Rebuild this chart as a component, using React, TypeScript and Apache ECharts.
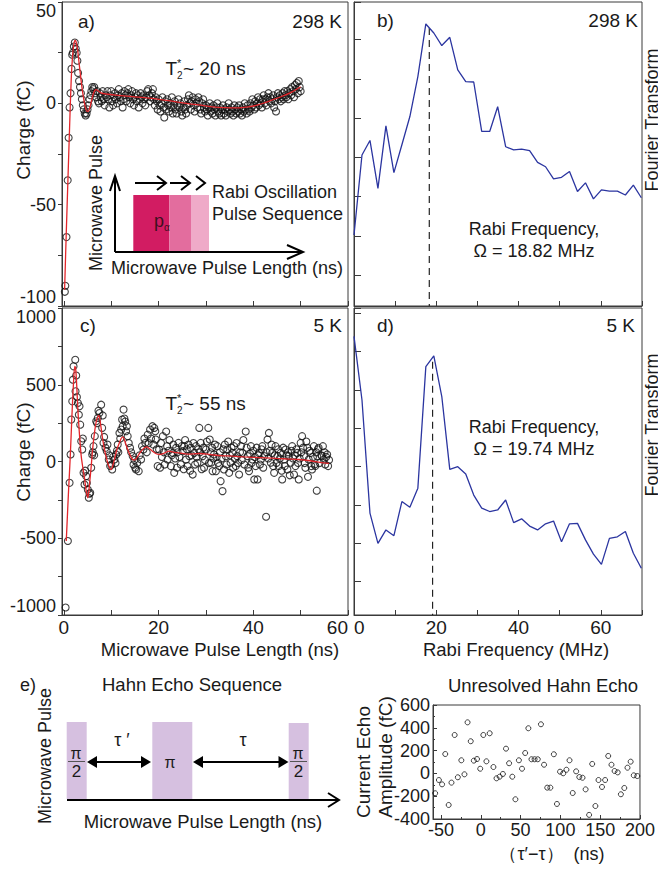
import React, { useEffect, useRef } from "react";
import * as echarts from "echarts";

const FONT = '"Liberation Sans", Arial, Helvetica, sans-serif';
const FRAME = "#3a3a3a";
const INK = "#1a1a1a";

// ---------- Panel a: Rabi oscillation, 298 K (ns, fC) ----------
const pulseA: number[][] = [
  [0.2,-93],[0.3,-90],[0.55,-66],[0.8,-38],[1.0,-17],[1.2,-2],[1.4,5],[1.6,17],[1.75,24],[1.9,25],[2.1,28],[2.3,30],[2.5,27],[2.7,25],[2.85,21],[3.0,15],[3.2,11],[3.4,8],[3.6,5],[3.8,2],[4.0,-1],[4.2,-3],[4.4,-5],[4.6,-6],[4.8,-5],[5.0,-3],[5.2,-1],[5.4,2],[5.6,4],[5.8,6],[6.0,8],[6.2,7],[6.4,8],[6.6,5],[6.8,3],[7.0,6],[7.2,1],[7.4,0],[7.6,5],[7.8,3],[8.0,1],[8.2,6],[8.4,2],[8.6,-1],[8.8,4],[9.0,3],[9.2,6],[9.4,2],[9.6,-2],[9.8,4],
  [10.0,6],[10.2,1],[10.4,-1],[10.6,3],[10.8,5],[11.0,2],[11.2,0],[11.4,4],[11.6,7],[11.8,3],[12.0,1],[12.2,5],[12.4,-2],[12.6,2],[12.8,6],[13.0,4],[13.2,1],[13.4,5],[13.6,7],[13.8,3],[14.0,0],[14.2,4],[14.4,6],[14.6,2],[14.8,-1],[15.0,3],[15.2,5],[15.4,1],[15.6,4],[15.8,-2],[16.0,2],[16.2,5],[16.4,3],[16.6,0],[16.8,4],[17.0,2],[17.2,-1],[17.4,3],[17.6,6],[17.8,7],[18.0,4],[18.2,1],[18.4,3],[18.6,5],[18.8,7],[19.0,2],[19.2,-1],[19.4,3],[19.6,1],[19.8,-3],
  [20.0,2],[20.2,-1],[20.4,-4],[20.6,0],[20.8,3],[21.0,-2],[21.2,-7],[21.4,1],[21.6,-3],[21.8,2],[22.0,-1],[22.2,-4],[22.4,0],[22.6,-2],[22.8,3],[23.0,-5],[23.2,-1],[23.4,1],[23.6,-3],[23.8,-5],[24.0,-1],[24.2,2],[24.4,-2],[24.6,0],[24.8,-4],[25.0,-6],[25.2,-2],[25.4,1],[25.6,-3],[25.8,-5],[26.0,-1],[26.2,2],[26.4,4],[26.6,0],[26.8,-3],[27.0,1],[27.2,3],[27.4,-1],[27.6,-4],[27.8,2],[28.0,0],[28.2,-2],[28.4,3],[28.6,1],[28.8,-3],[29.0,-5],[29.2,0],[29.4,2],[29.6,-2],[29.8,-4],
  [30.0,-1],[30.2,-3],[30.4,-6],[30.6,-2],[30.8,0],[31.0,-4],[31.2,-2],[31.4,-5],[31.6,-1],[31.8,-3],[32.0,-6],[32.2,-2],[32.4,0],[32.6,-4],[32.8,-5],[33.0,-2],[33.2,-6],[33.4,-3],[33.6,-1],[33.8,-5],[34.0,-3],[34.2,-6],[34.4,-2],[34.6,-4],[34.8,0],[35.0,-3],[35.2,-5],[35.4,-2],[35.6,-4],[35.8,-6],[36.0,-1],[36.2,-3],[36.4,-5],[36.6,-2],[36.8,-4],[37.0,-1],[37.2,-5],[37.4,-3],[37.6,-6],[37.8,-2],[38.0,-4],[38.2,0],[38.4,-3],[38.6,-5],[38.8,-1],[39.0,-3],[39.2,-4],[39.4,0],[39.6,-2],[39.8,2],
  [40.0,-1],[40.2,-3],[40.4,1],[40.6,-2],[40.8,0],[41.0,3],[41.2,-1],[41.4,2],[41.6,0],[41.8,-2],[42.0,2],[42.2,4],[42.4,0],[42.6,2],[42.8,-1],[43.0,3],[43.2,5],[43.4,1],[43.6,3],[43.8,0],[44.0,2],[44.2,4],[44.4,-2],[44.6,1],[44.8,-4],[45.0,3],[45.2,5],[45.4,2],[45.6,4],[45.8,1],[46.0,3],[46.2,5],[46.4,2],[46.6,6],[46.8,4],[47.0,3],[47.2,6],[47.4,2],[47.6,5],[47.8,7],[48.0,4],[48.2,8],[48.4,6],[48.6,3],[48.8,9],[49.0,7],[49.2,10],[49.4,5],[49.6,11],[49.8,8],[50.0,6]
];
const fitA: number[][] = [
  [0.15,-92],[0.5,-64],[0.85,-38],[1.2,-12],[1.55,12],[1.85,24],[2.1,29],[2.35,31],[2.55,30.5],[2.75,28.5],[2.95,25.5],[3.2,20],[3.45,15],[3.75,9],[4.05,4],[4.35,0],[4.6,-2.5],[4.85,-3.8],[5.1,-4],[5.35,-3],[5.6,-1],[5.9,2],[6.2,4.5],[6.5,6.3],[6.8,6.8],[7.2,6.2],[7.8,5.2],[8.9,4.6],[11,4],[14.5,3.3],[18,2.6],[20,2],[22.5,1.2],[25.8,0],[28.5,-0.8],[31.4,-1.7],[34,-2.1],[37,-2.2],[39,-1.8],[41,-0.8],[42.6,0.5],[44.3,1.9],[46.1,3.5],[48,5.4],[50,8.2]
];

// ---------- Panel c: Rabi oscillation, 5 K (ns, fC) ----------
const pulseC: number[][] = [
  [0.36,-951],[0.84,-518],[1.2,-139],[1.41,46],[1.55,273],[1.77,392],[1.9,533],[2.04,620],[2.4,663],[2.46,457],[2.6,560],[2.75,420],[2.95,381],[3.16,305],[3.3,360],[3.45,240],[3.66,132],[3.87,78],[4.0,150],[4.15,-74],[4.36,-150],[4.5,-60],[4.7,-95],[4.85,-140],[5.05,-182],[5.26,-236],[5.4,-210],[5.56,-204],[5.77,-41],[5.98,46],[6.1,60],[6.25,100],[6.4,40],[6.53,165],[6.82,262],[7.0,250],[7.16,284],[7.3,330],[7.5,316],[7.87,370],[8.08,219],[8.2,300],[8.36,121],[8.5,160],[8.78,89],[9.05,67],[9.2,110],[9.47,13],[9.6,40],[9.77,-30],
  [10.0,-20],[10.2,-52],[10.4,30],[10.67,13],[10.9,-10],[11.03,46],[11.2,70],[11.37,110],[11.5,60],[11.73,186],[11.9,150],[12.1,208],[12.3,273],[12.42,230],[12.6,338],[12.78,280],[12.95,260],[13.13,197],[13.3,230],[13.47,165],[13.7,120],[13.97,89],[14.2,60],[14.53,35],[14.7,-20],[14.9,10],[15.05,-40],[15.24,-52],[15.5,-10],[15.8,-63],[16.0,40],[16.3,13],[16.5,100],[16.8,78],[17.0,150],[17.2,121],[17.5,60],[17.7,175],[17.9,120],[18.2,208],[18.4,150],[18.7,230],[18.9,110],[19.1,219],[19.3,197],[19.4,143],[19.6,80],[19.8,-30],
  [20.1,78],[20.3,-40],[20.5,120],[20.7,30],[20.9,165],[21.1,60],[21.3,-20],[21.6,195],[21.8,100],[21.9,13],[22.1,70],[22.3,140],[22.6,-30],[22.8,40],[23.0,56],[23.1,110],[23.3,-74],[23.5,20],[23.7,89],[23.9,-40],[24.0,60],[24.2,121],[24.4,30],[24.7,-19],[24.9,100],[25.1,67],[25.3,-50],[25.4,100],[25.6,140],[25.8,13],[25.95,80],[26.1,-30],[26.3,110],[26.5,35],[26.65,-60],[26.8,89],[27.0,40],[27.2,-85],[27.35,120],[27.5,56],[27.7,-20],[27.9,100],[28.05,30],[28.2,-8],[28.4,80],[28.6,219],[28.75,60],[28.9,121],[29.1,-50],[29.3,35],[29.45,90],[29.6,-41],[29.8,10],
  [30.0,78],[30.2,130],[30.5,219],[30.65,-10],[30.8,143],[31.0,60],[31.1,-8],[31.3,90],[31.4,-63],[31.55,20],[31.7,46],[31.9,110],[32.1,-63],[32.25,30],[32.4,100],[32.6,-10],[32.8,-30],[32.95,60],[33.1,-128],[33.3,20],[33.5,-193],[33.65,80],[33.8,-52],[34.0,110],[34.2,35],[34.35,-20],[34.5,78],[34.7,130],[34.9,-74],[35.05,40],[35.2,-8],[35.4,90],[35.6,56],[35.75,-40],[35.9,100],[36.1,20],[36.3,-30],[36.45,120],[36.6,35],[36.8,-10],[37.0,-85],[37.2,60],[37.4,100],[37.55,10],[37.7,56],[37.9,140],[38.1,-20],[38.4,195],[38.6,90],[38.8,35],[38.95,-40],[39.1,-63],[39.3,50],[39.5,100],[39.65,-10],[39.8,13],
  [40.0,70],[40.2,-117],[40.35,30],[40.5,-30],[40.7,90],[40.9,-117],[41.05,40],[41.2,56],[41.4,-20],[41.6,13],[41.75,80],[41.9,100],[42.1,-40],[42.3,35],[42.7,-360],[42.8,60],[43.0,143],[43.15,20],[43.3,186],[43.5,70],[43.7,-8],[43.85,110],[44.0,56],[44.2,-30],[44.4,-74],[44.55,40],[44.7,100],[44.9,-10],[45.1,35],[45.25,80],[45.4,-30],[45.6,20],[45.8,56],[46.0,-60],[46.1,-117],[46.3,90],[46.5,13],[46.65,-30],[46.8,78],[47.0,40],[47.2,-52],[47.35,60],[47.5,35],[47.7,-90],[47.9,-8],[48.05,70],[48.2,100],[48.4,20],[48.6,-85],[48.75,40],[48.9,-30],[49.1,80],[49.3,56],[49.45,-10],[49.6,-117],[49.8,20],
  [50.0,121],[50.15,60],[50.3,165],[50.5,90],[50.7,35],[50.85,-10],[51.0,-41],[51.2,130],[51.4,89],[51.55,-100],[51.7,13],[51.9,70],[52.1,56],[52.25,-30],[52.4,-52],[52.6,30],[52.8,100],[52.95,-20],[53.1,-30],[53.3,60],[53.4,-190],[53.5,35],[53.65,80],[53.8,89],[54.0,-10],[54.35,40],[54.5,35],[54.7,100],[54.9,13],[55.05,60],[55.2,-19],[55.4,30],[55.6,46],[55.8,-30],[56.0,10]
];
const fitC: number[][] = [
  [0.5,-518],[1.0,-180],[1.35,35],[1.7,300],[2.04,520],[2.3,620],[2.5,600],[2.75,470],[2.95,338],[3.3,170],[3.66,35],[4.0,-40],[4.36,-110],[4.7,-190],[5.05,-236],[5.4,-150],[5.77,-30],[6.1,90],[6.46,187],[6.9,270],[7.37,300],[7.8,230],[8.2,143],[8.7,60],[9.26,-9],[9.7,-45],[10.0,-52],[10.4,-20],[10.67,13],[11.2,80],[11.7,120],[12.1,150],[12.5,160],[12.9,130],[13.47,78],[14.0,40],[14.5,13],[15.0,10],[15.3,20],[15.8,45],[16.3,67],[17.0,90],[17.5,95],[18.0,85],[18.7,67],[19.4,52],[20.1,46],[21.0,52],[22.25,67],[23.3,60],[24.4,56],[26.1,48],[28.6,52],[31,45],[33.1,38],[35.6,35],[38,30],[40,27],[42.6,24],[45,20],[47.5,16],[49.6,13],[52,5],[54.9,-9],[56,-12]
];

// ---------- Panels b, d: Fourier transforms (MHz, arb. units) ----------
const ftFreq: number[] = [0,1.94,3.88,5.82,7.76,9.70,11.64,13.58,15.52,17.46,19.40,21.34,23.28,25.22,27.16,29.10,31.04,32.98,34.92,36.86,38.80,40.74,42.68,44.62,46.56,48.50,50.44,52.38,54.32,56.26,58.20,60.14,62.08,64.02,65.96,67.90,69.84];
const ftB: number[] = [1.02,3.06,3.43,2.21,3.80,2.61,3.32,4.04,5.06,6.40,6.17,5.85,6.06,5.23,4.93,4.92,3.66,3.66,4.29,3.27,3.19,3.21,3.17,2.87,2.76,2.45,2.49,2.64,2.13,2.35,1.94,2.17,2.14,2.14,2.04,2.29,1.97];
const ftD: number[] = [6.40,4.74,1.79,1.00,1.35,1.20,2.09,1.94,2.44,5.61,5.89,4.83,2.93,3.00,2.81,2.26,1.92,1.83,1.87,2.13,1.54,1.64,1.45,1.35,1.51,1.58,1.04,1.51,1.52,1.09,0.72,0.45,1.13,1.17,1.31,0.74,0.35];
const peakMarkB = { freq: 18.3, top: 6.3 };
const peakMarkD = { freq: 19.1, top: 5.74 };
const ftRangeB = { min: -0.79, max: 6.96 };
const ftRangeD = { min: -0.87, max: 7.14 };

// ---------- Panel e: unresolved Hahn echo ----------
const echoX: number[] = [-57.3,-52.6,-48.6,-44.6,-40.3,-36.8,-32.8,-28.8,-24.4,-20.5,-16.6,-12.6,-8.7,-4.7,-0.7,3.2,7.1,11.2,15.9,19.8,23.7,27.8,31.7,35.6,39.6,43.5,47.9,51.8,55.8,59.8,63.7,67.6,71.6,75.6,79.5,83.5,87.4,91.8,95.7,99.6,103.6,107.6,111.5,115.5,119.8,123.8,127.8,131.7,136.1,140,144,147.9,152.3,156.2,160.1,164.2,168.1,172,176,180.3,184.3,188.3,192.2,196.6];
const echoY: number[] = [-174,-58,-96,170,-277,-81,337,-34,115,-8,448,282,112,126,41,337,106,352,56,-43,-29,-5,217,89,-29,-227,115,41,179,396,124,124,124,431,76,-125,-125,168,-268,15,1,32,115,-172,18,-32,-38,-140,-364,83,-286,-58,-119,-58,153,76,21,9,-183,-128,50,103,-17,-23];

// ---------- helpers ----------
const txt = (text: string, x: number, y: number, size = 18, align = "center", rotation = 0, fill = INK) => ({
  type: "text", x, y, rotation, z: 50, silent: true,
  style: { text, fontSize: size, fontFamily: FONT, fill, align, verticalAlign: "middle", textAlign: align, textVerticalAlign: "middle" },
});
const seg = (x1: number, y1: number, x2: number, y2: number, w = 2, c = "#000") => ({
  type: "line", z: 50, silent: true, shape: { x1, y1, x2, y2 }, style: { stroke: c, lineWidth: w },
});
const chev = (pts: number[][]) => ({
  type: "polyline", z: 50, silent: true, shape: { points: pts }, style: { stroke: "#000", lineWidth: 2, fill: "none" },
});
const tri = (pts: number[][]) => ({
  type: "polygon", z: 50, silent: true, shape: { points: pts }, style: { fill: "#000" },
});
const box = (x: number, y: number, w: number, h: number, fill: string) => ({
  type: "rect", z: 40, silent: true, shape: { x, y, width: w, height: h }, style: { fill },
});

const lbl = { fontFamily: FONT, color: INK };
const axLine = { onZero: false, lineStyle: { color: FRAME, width: 1 } };
const gridBox = { show: true, borderColor: FRAME, borderWidth: 1, backgroundColor: "transparent" };

const LAV = "#d6c0e0";

function buildOption() {
  return {
    animation: false,
    backgroundColor: "#fff",
    grid: [
      { left: 62, top: 2, width: 286, height: 304, ...gridBox },
      { left: 354, top: 2, width: 288, height: 304, ...gridBox },
      { left: 62, top: 308, width: 286, height: 307, ...gridBox },
      { left: 354, top: 308, width: 288, height: 307, ...gridBox },
      { left: 433, top: 705, width: 219, height: 114, ...gridBox },
    ],
    xAxis: [
      { gridIndex: 0, type: "value", min: -0.4, max: 60, splitNumber: 6, axisLine: axLine,
        axisTick: { inside: true, length: 5, lineStyle: { color: FRAME } }, axisLabel: { show: false }, splitLine: { show: false } },
      { gridIndex: 1, type: "value", min: 0, max: 70, interval: 10, axisLine: axLine,
        axisTick: { inside: true, length: 5, lineStyle: { color: FRAME } }, axisLabel: { show: false }, splitLine: { show: false } },
      { gridIndex: 2, type: "value", min: -0.4, max: 60, splitNumber: 6, axisLine: axLine,
        axisTick: { inside: true, length: 5, lineStyle: { color: FRAME } },
        axisLabel: { ...lbl, fontSize: 19, margin: 3, alignMaxLabel: "right",
          formatter: (v: number) => (v >= 0 && v % 20 === 0 ? String(v) : "") },
        splitLine: { show: false } },
      { gridIndex: 3, type: "value", min: 0, max: 70, interval: 10, axisLine: axLine,
        axisTick: { inside: true, length: 5, lineStyle: { color: FRAME } },
        axisLabel: { ...lbl, fontSize: 19, margin: 3, alignMinLabel: "left",
          formatter: (v: number) => (v % 20 === 0 ? String(v) : "") },
        splitLine: { show: false } },
      { gridIndex: 4, type: "value", min: -60, max: 200, splitNumber: 5, axisLine: axLine,
        axisTick: { inside: true, length: 4, lineStyle: { color: FRAME } },
        minorTick: { show: true, splitNumber: 2, length: 2, lineStyle: { color: FRAME } },
        axisLabel: { ...lbl, fontSize: 18, margin: 2,
          formatter: (v: number) => (v % 50 === 0 ? String(v) : "") },
        splitLine: { show: false } },
    ],
    yAxis: [
      { gridIndex: 0, type: "value", min: -100, max: 50, interval: 25, axisLine: axLine,
        axisTick: { inside: false, length: 4, lineStyle: { color: FRAME } },
        axisLabel: { ...lbl, fontSize: 18, margin: 6, verticalAlignMinLabel: "bottom", verticalAlignMaxLabel: "top",
          formatter: (v: number) => (v % 50 === 0 ? String(v) : "") },
        splitLine: { show: false } },
      { gridIndex: 1, type: "value", min: ftRangeB.min, max: ftRangeB.max, splitNumber: 8, minInterval: 1, maxInterval: 1,
        axisLine: axLine, axisTick: { inside: true, length: 7, lineStyle: { color: FRAME } },
        axisLabel: { show: false }, splitLine: { show: false } },
      { gridIndex: 2, type: "value", min: -1000, max: 1000, interval: 250, axisLine: axLine,
        axisTick: { inside: false, length: 4, lineStyle: { color: FRAME } },
        axisLabel: { ...lbl, fontSize: 18, margin: 6, verticalAlignMinLabel: "bottom", verticalAlignMaxLabel: "top",
          formatter: (v: number) => (v % 500 === 0 ? String(v) : "") },
        splitLine: { show: false } },
      { gridIndex: 3, type: "value", min: ftRangeD.min, max: ftRangeD.max, splitNumber: 8, minInterval: 1, maxInterval: 1,
        axisLine: axLine, axisTick: { inside: true, length: 7, lineStyle: { color: FRAME } },
        axisLabel: { show: false }, splitLine: { show: false } },
      { gridIndex: 4, type: "value", min: -400, max: 600, interval: 200, axisLine: axLine,
        axisTick: { inside: true, length: 4, lineStyle: { color: FRAME } },
        minorTick: { show: true, splitNumber: 2, length: 2, lineStyle: { color: FRAME } },
        axisLabel: { ...lbl, fontSize: 18, margin: 3 },
        splitLine: { show: false } },
    ],
    series: [
      { type: "scatter", xAxisIndex: 0, yAxisIndex: 0, data: pulseA, symbol: "circle", symbolSize: 7,
        itemStyle: { color: "rgba(255,255,255,0)", borderColor: "#111", borderWidth: 1.1 }, z: 3 },
      { type: "line", xAxisIndex: 0, yAxisIndex: 0, data: fitA, smooth: 0.35, symbol: "none",
        lineStyle: { color: "#e3262b", width: 1.3 }, z: 5 },
      { type: "line", xAxisIndex: 1, yAxisIndex: 1, data: ftFreq.map((f, i) => [f, ftB[i]]), symbol: "none",
        lineStyle: { color: "#2b35a0", width: 1.3 }, z: 5 },
      { type: "line", xAxisIndex: 1, yAxisIndex: 1, data: [[peakMarkB.freq, peakMarkB.top], [peakMarkB.freq, ftRangeB.min]],
        symbol: "none", lineStyle: { color: "#222", width: 1.2, type: [7, 5] }, z: 4 },
      { type: "scatter", xAxisIndex: 2, yAxisIndex: 2, data: pulseC, symbol: "circle", symbolSize: 7,
        itemStyle: { color: "rgba(255,255,255,0)", borderColor: "#111", borderWidth: 1.1 }, z: 3 },
      { type: "line", xAxisIndex: 2, yAxisIndex: 2, data: fitC, smooth: 0.3, symbol: "none",
        lineStyle: { color: "#e3262b", width: 1.3 }, z: 5 },
      { type: "line", xAxisIndex: 3, yAxisIndex: 3, data: ftFreq.map((f, i) => [f, ftD[i]]), symbol: "none",
        lineStyle: { color: "#2b35a0", width: 1.3 }, z: 5 },
      { type: "line", xAxisIndex: 3, yAxisIndex: 3, data: [[peakMarkD.freq, peakMarkD.top], [peakMarkD.freq, ftRangeD.min]],
        symbol: "none", lineStyle: { color: "#222", width: 1.2, type: [7, 5] }, z: 4 },
      { type: "scatter", xAxisIndex: 4, yAxisIndex: 4, data: echoX.map((x, i) => [x, echoY[i]]), symbol: "circle", symbolSize: 5,
        itemStyle: { color: "rgba(255,255,255,0)", borderColor: "#111", borderWidth: 1 }, z: 3 },
    ],
    graphic: [
      // panel a
      txt("a)", 78, 21, 19, "left"),
      txt("298 K", 342, 21, 19, "right"),
      txt("T", 165.5, 68, 19, "left"),
      txt("*", 177, 63, 11, "left"),
      txt("2", 177, 75, 10, "left"),
      txt("~ 20 ns", 183, 68, 19, "left"),
      txt("Charge (fC)", 23, 130, 19, "center", Math.PI / 2),
      box(133.3, 195, 36, 56, "#d21c62"),
      box(169.3, 195, 21.7, 56, "#e36d9e"),
      box(191, 195, 18, 56, "#efaac8"),
      seg(115, 252, 115, 177),
      chev([[110, 191], [115, 176], [120, 191]]),
      seg(115, 252, 302, 252),
      chev([[287, 245], [303, 252], [287, 259]]),
      seg(135, 183, 166, 183),
      chev([[157, 176], [166, 183], [157, 190]]),
      seg(170, 183, 189, 183),
      chev([[181, 176], [190, 183], [181, 190]]),
      chev([[196, 176], [205, 183], [196, 190]]),
      txt("p", 154, 221, 18, "left", 0, "#3d1020"),
      txt("α", 164, 227, 10, "left", 0, "#3d1020"),
      txt("Rabi Oscillation", 212, 192, 18, "left"),
      txt("Pulse Sequence", 212, 214, 18, "left"),
      txt("Microwave Pulse Length (ns)", 227, 268, 18),
      txt("Microwave Pulse", 96, 203, 18, "center", Math.PI / 2),
      // panel b
      txt("b)", 377, 20, 19, "left"),
      txt("298 K", 638, 20, 19, "right"),
      txt("Rabi Frequency,", 534, 229, 18),
      txt("Ω = 18.82 MHz", 534, 251, 18),
      txt("Fourier Transform", 652, 120, 18, "center", Math.PI / 2),
      // panel c
      txt("c)", 80, 325, 19, "left"),
      txt("5 K", 342, 325, 19, "right"),
      txt("T", 165.5, 403, 19, "left"),
      txt("*", 177, 398, 11, "left"),
      txt("2", 177, 410, 10, "left"),
      txt("~ 55 ns", 183, 403, 19, "left"),
      txt("Charge (fC)", 23, 452, 19, "center", Math.PI / 2),
      txt("Microwave Pulse Length (ns)", 220, 649, 18.5),
      // panel d
      txt("d)", 377, 325, 19, "left"),
      txt("5 K", 635, 325, 19, "right"),
      txt("Rabi Frequency,", 534, 427, 18),
      txt("Ω = 19.74 MHz", 534, 449, 18),
      txt("Fourier Transform", 652, 425, 18, "center", Math.PI / 2),
      txt("Rabi Frequency (MHz)", 516, 649, 18.5),
      // panel e (left diagram)
      txt("e)", 28, 685, 18),
      txt("Microwave Pulse", 45, 756, 18, "center", Math.PI / 2),
      txt("Hahn Echo Sequence", 192, 684, 18.5),
      box(66.7, 722, 20, 77, LAV),
      box(152.3, 722, 40, 77, LAV),
      box(288.7, 723, 20, 76, LAV),
      seg(67, 800, 338, 800),
      chev([[328, 793], [339, 800], [328, 807]]),
      txt("Microwave Pulse Length (ns)", 203, 821, 18.5),
      seg(92, 762, 146, 762),
      tri([[87, 762], [97, 756], [97, 768]]),
      tri([[151, 762], [141, 756], [141, 768]]),
      seg(198, 762, 283, 762),
      tri([[193, 762], [203, 756], [203, 768]]),
      tri([[288.5, 762], [278.5, 756], [278.5, 768]]),
      txt("τ ′", 122, 740, 18),
      txt("τ", 243, 740, 18),
      txt("π", 76, 753, 16),
      seg(68, 761.5, 85, 761.5, 1, "#555"),
      txt("2", 76.5, 771, 17),
      txt("π", 170, 762, 16),
      txt("π", 298, 753, 16),
      seg(290, 761.5, 307, 761.5, 1, "#555"),
      txt("2", 298.5, 771, 17),
      // panel e (right scatter)
      txt("Unresolved Hahn Echo", 543, 685, 18.5),
      txt("Current Echo", 363, 762, 19, "center", Math.PI / 2),
      txt("Amplitude (fC)", 385, 757, 19, "center", Math.PI / 2),
      txt("（τ′−τ）  (ns)", 552, 854, 18),
    ],
  };
}

export default function App() {
  const ref = useRef<HTMLDivElement>(null);
  useEffect(() => {
    if (!ref.current) return;
    const chart = echarts.init(ref.current, null, { renderer: "svg", width: 658, height: 871 });
    chart.setOption(buildOption() as any);
    return () => chart.dispose();
  }, []);
  return <div ref={ref} style={{ position: "absolute", left: 0, top: 0, width: 658, height: 871 }} />;
}
